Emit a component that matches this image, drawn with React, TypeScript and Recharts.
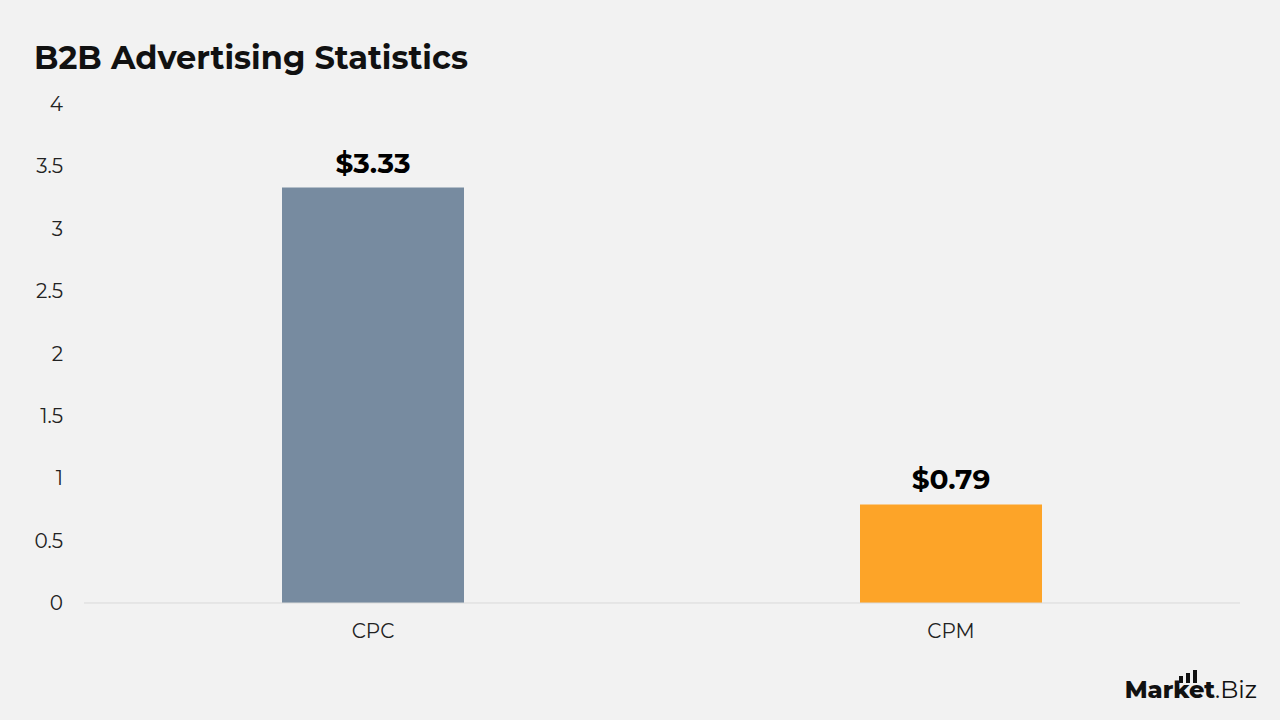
import { BarChart, Bar, XAxis, YAxis, LabelList, Cell } from 'recharts';

const categories = ['CPC', 'CPM'];
const costs = [3.33, 0.79];
const barColors = ['#778ba0', '#fda428'];
const yTicks = [0, 0.5, 1, 1.5, 2, 2.5, 3, 3.5, 4];

const data = categories.map((name, i) => ({ name, value: costs[i] }));

const font = 'Montserrat, Inter, "Noto Sans", sans-serif';

export default function App() {
  return (
    <div
      style={{
        position: 'fixed',
        left: 0,
        top: 0,
        width: 1280,
        height: 720,
        background: '#f2f2f2',
        fontFamily: font,
      }}
    >
      <div
        style={{
          position: 'absolute',
          left: 34,
          top: 38,
          fontSize: 32,
          fontWeight: 700,
          color: '#111',
        }}
      >
        B2B Advertising Statistics
      </div>
      <BarChart
        width={1280}
        height={720}
        data={data}
        margin={{ top: 104, right: 40, bottom: 77, left: 0 }}
      >
        <XAxis
          dataKey="name"
          height={40}
          tickSize={0}
          tickMargin={21}
          axisLine={{ stroke: '#d9d9d9' }}
          tick={{ fill: '#222', fontSize: 20, fontFamily: font }}
        />
        <YAxis
          width={84}
          domain={[0, 4]}
          ticks={yTicks}
          interval={0}
          axisLine={false}
          tickLine={false}
          tickSize={0}
          tickMargin={21}
          tick={{ fill: '#222', fontSize: 20, fontFamily: font }}
        />
        <Bar dataKey="value" barSize={182} isAnimationActive={false}>
          {data.map((d, i) => (
            <Cell key={d.name} fill={barColors[i]} />
          ))}
          <LabelList
            dataKey="value"
            position="top"
            offset={15}
            formatter={(v: number) => `$${v.toFixed(2)}`}
            style={{ fill: '#000', fontSize: 28, fontWeight: 700, fontFamily: font }}
          />
        </Bar>
      </BarChart>
      <div
        style={{
          position: 'absolute',
          right: 23,
          top: 676,
          display: 'flex',
          alignItems: 'flex-end',
          color: '#111',
          fontSize: 24,
          lineHeight: '28px',
        }}
      >
        <span style={{ fontWeight: 800, position: 'relative' }}>
          Market
          <span
            style={{
              position: 'absolute',
              left: 54,
              top: -6,
              display: 'flex',
              alignItems: 'flex-end',
              gap: 3,
            }}
          >
            <span style={{ width: 4, height: 7, background: '#111' }} />
            <span style={{ width: 4, height: 10, background: '#111' }} />
            <span style={{ width: 4, height: 13, background: '#111' }} />
          </span>
        </span>
        <span style={{ fontWeight: 400 }}>.Biz</span>
      </div>
    </div>
  );
}
